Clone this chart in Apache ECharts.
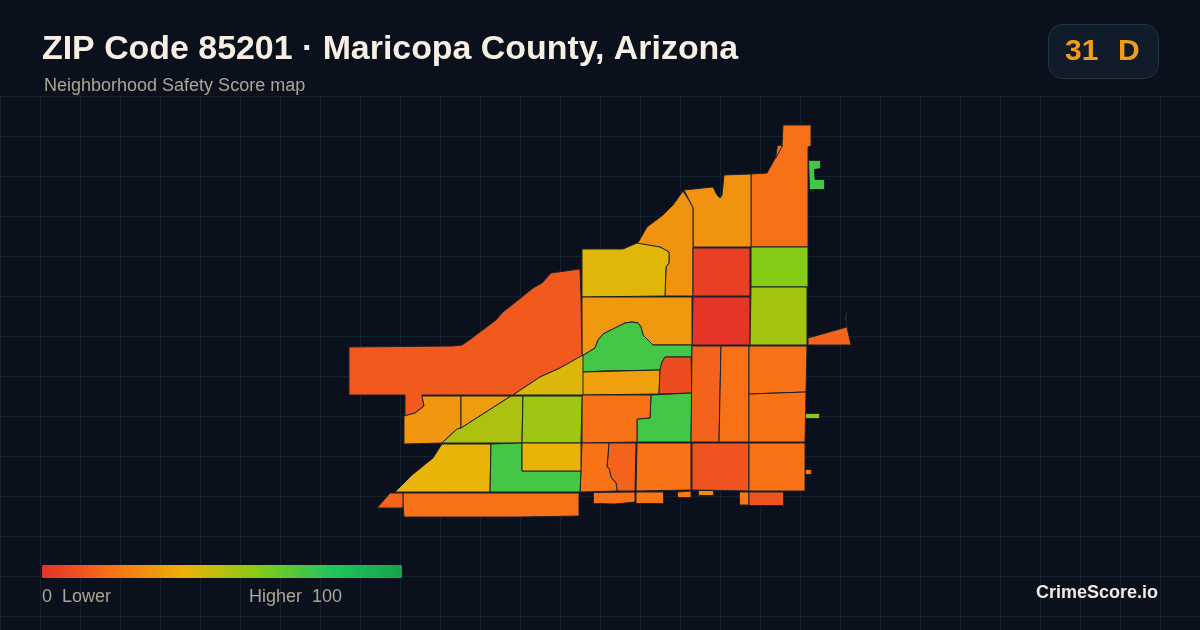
<!DOCTYPE html>
<html><head><meta charset="utf-8">
<style>html,body{margin:0;padding:0;background:#0a111c}#c{width:1200px;height:630px}</style>
<script src="https://cdn.jsdelivr.net/npm/echarts@6/dist/echarts.min.js"></script>
</head><body><div id="c"></div>
<script>
const titleText = 'ZIP Code 85201 · Maricopa County, Arizona';
const subtitleText = 'Neighborhood Safety Score map';
const badgeScore = '31';
const badgeGrade = 'D';
const brandText = 'CrimeScore.io';
const legendLow = '0  Lower';
const legendHigh = 'Higher  100';
const scaleColors = ['#e53228','#f97316','#eab308','#84cc16','#22c55e','#16a34a'];

const tractNames = ['ne','ne2','nw','nwy','r1','r2','g1','g2','mid','midg','k','l','m','n','o','p','q','r','s','t','u','v','w',
 'x','y','z1','z2','z3','z4','z5','z6','west','a','b','c','d','e','f','g','h','i','j','tri','e1','lime','sl'];
const tractScores = [19,30,30,42,4,1,60,54,32,73,34,8,73,20,15,19,20,20,10,20,20,15,20,
 20,21,22,27,22,10,21,22,12,31,33,52,55,43,40,73,40,19,15,15,73,60,12];
const tractOutlines = [
 [[783,125],[811,125],[811,146],[808,147],[808,247],[751,247],[751,174],[767,173],[782,146],[783,146]],
 [[684,190],[713,187],[717,195],[720,198],[722,195],[724,175],[751,174],[751,247],[693,247],[693,208],[690,202]],
 [[683,191],[690,202],[693,208],[693,296],[665,296],[666,267],[669,263],[669,252],[660,247],[637,244],[639,241],[647,227],[663,215],[673,205]],
 [[582,249],[623,249],[637,243],[637,244],[660,247],[669,252],[669,263],[666,267],[665,296],[582,297]],
 [[693,248],[750,248],[750,296],[693,296]],
 [[693,297],[750,297],[750,345],[692,345]],
 [[751,247],[808,247],[808,287],[751,287]],
 [[751,287],[807,287],[807,345],[750,345]],
 [[582,297],[692,297],[692,345],[653,345],[643,335],[641,327],[638,323],[632,322],[625,323],[613,329],[603,334],[598,340],[595,348],[582,356]],
 [[582,356],[595,348],[598,340],[603,334],[613,329],[625,323],[632,322],[638,323],[641,327],[643,335],[653,345],[692,345],[692,357],[665,357],[662,362],[660,370],[602,371],[582,372]],
 [[582,372],[660,370],[659,394],[582,395]],
 [[665,357],[691,357],[692,393],[659,394],[660,370],[662,362]],
 [[651,395],[692,393],[691,442],[637,442],[637,419],[650,418]],
 [[582,395],[651,395],[650,418],[637,419],[637,442],[582,443]],
 [[692,346],[721,346],[719,442],[691,442]],
 [[721,346],[749,346],[749,442],[719,442]],
 [[749,346],[807,346],[806,392],[749,394]],
 [[749,394],[806,392],[805,442],[749,442]],
 [[692,443],[749,443],[749,491],[692,490]],
 [[749,443],[805,443],[805,491],[749,491]],
 [[637,443],[691,443],[691,490],[636,491]],
 [[609,443],[636,443],[635,491],[617,491],[616,483],[611,477],[609,468],[607,467]],
 [[582,443],[609,443],[607,467],[609,468],[611,477],[616,483],[617,491],[580,492]],
 [[593.5,492.5],[635,492],[635,502],[615,504],[593.5,503.5]],
 [[636,492],[663.5,492],[663.5,503.5],[636,503.5]],
 [[677.5,492],[691,491],[691,497.5],[677.5,497.5]],
 [[698.5,490.5],[713.5,490.5],[713.5,495.5],[698.5,495.5]],
 [[739.5,492],[749,492],[749,505],[739.5,505]],
 [[749,492],[783.5,492],[783.5,505.5],[749,505.5]],
 [[805.5,469.5],[811.5,469.5],[811.5,474.5],[805.5,474.5]],
 [[777.5,145.5],[782.5,145.5],[775.5,158.5]],
 [[349,347],[453,346],[462,345],[468,341],[496,320],[503,312],[522,297],[533,288],[542,283],[551,273],[580,269],[581,297],[582,356],[560,368],[540,377],[513,395],[422,395],[424,406],[415,413],[405,416],[405,395],[349,395]],
 [[422,396],[461,396],[461,428],[457,429],[442,443],[404,444],[404,416],[415,413],[424,406]],
 [[461,396],[511,396],[461,428]],
 [[442,443],[457,429],[461,428],[511,396],[523,396],[522,443]],
 [[523,396],[582,396],[581,443],[522,443]],
 [[513,395],[540,377],[560,368],[583,355],[583,395]],
 [[442,444],[491,444],[490,492],[395,492],[412,475],[433,458],[440,447]],
 [[491,444],[522,443],[522,471],[581,471],[580,492],[490,492]],
 [[522,443],[581,443],[581,471],[522,471]],
 [[403,493],[579,493],[579,516],[520,517],[404,517],[403,503]],
 [[390,493],[403,493],[403,508],[377,508]],
 [[808,338],[847,327],[851,345],[808,345]],
 [[808.5,160.5],[820.5,160.5],[820.5,168.5],[814.5,169.5],[815,179.5],[824.5,179.5],[824.5,189.5],[809.5,189.5]],
 [[805.5,413.5],[819.5,413.5],[819.5,418.5],[805.5,418.5]],
 [[847,312],[845,318],[847,327],[846,318]]
];

const geojson = {type:'FeatureCollection',features:tractNames.map((n,i)=>({
  type:'Feature',properties:{name:n},
  geometry:{type:'Polygon',coordinates:[tractOutlines[i].concat([tractOutlines[i][0]])]}
}))};
echarts.registerMap('zip85201',geojson);

const chart = echarts.init(document.getElementById('c'),null,{renderer:'canvas'});
const sans = '"Liberation Sans", Arial, sans-serif';
chart.setOption({
  animation:false,
  backgroundColor:'#0a111c',
  title:[
    {text:titleText,left:42,top:33,padding:0,textStyle:{fontFamily:sans,fontSize:33.9,fontWeight:'bold',color:'#f7efe3'}},
    {text:subtitleText,left:44,top:77,padding:0,textStyle:{fontFamily:sans,fontSize:18,fontWeight:'normal',color:'#aca597'}}
  ],
  grid:{left:0,top:96,width:1200,height:534,show:false},
  xAxis:{type:'value',min:0,max:1200,interval:40,axisLine:{show:false},axisTick:{show:false},axisLabel:{show:false},
    splitLine:{show:true,lineStyle:{color:'#15212c',width:1}}},
  yAxis:{type:'value',inverse:true,min:0,max:534,interval:40,axisLine:{show:false},axisTick:{show:false},axisLabel:{show:false},
    splitLine:{show:true,lineStyle:{color:'#15212c',width:1}}},
  visualMap:{type:'continuous',min:0,max:100,seriesIndex:0,orient:'horizontal',left:42,top:565,itemWidth:13,itemHeight:360,
    padding:0,calculable:false,realtime:false,text:['',''],showLabel:false,hoverLink:false,textStyle:{fontSize:0,color:'transparent'},
    inRange:{color:scaleColors}},
  series:[{
    type:'map',map:'zip85201',
    projection:{project:p=>[p[0],p[1]],unproject:p=>[p[0],p[1]]},
    left:349,top:125,width:502,height:392,
    roam:false,silent:true,z:5,
    label:{show:false},emphasis:{disabled:true},select:{disabled:true},
    itemStyle:{borderColor:'#1d2229',borderWidth:1},
    data:tractNames.map((n,i)=>({name:n,value:tractScores[i]}))
  }],
  graphic:[
    {type:'rect',shape:{x:1048.5,y:24.5,width:110,height:54,r:14},style:{fill:'#111c2a',stroke:'#26323f',lineWidth:1},z:10},
    {type:'text',x:1065,y:52,z:11,style:{text:badgeScore,fontFamily:sans,fontSize:30,fontWeight:'bold',fill:'#f39c19',align:'left',verticalAlign:'middle'}},
    {type:'text',x:1118,y:52,z:11,style:{text:badgeGrade,fontFamily:sans,fontSize:30,fontWeight:'bold',fill:'#f39c19',align:'left',verticalAlign:'middle'}},
    {type:'text',x:42,y:597,z:11,style:{text:legendLow,fontFamily:sans,fontSize:18,fill:'#aca597',align:'left',verticalAlign:'middle'}},
    {type:'text',x:249,y:597,z:11,style:{text:legendHigh,fontFamily:sans,fontSize:18,fill:'#aca597',align:'left',verticalAlign:'middle'}},
    {type:'text',x:1158,y:593,z:11,style:{text:brandText,fontFamily:sans,fontSize:18,fontWeight:'bold',fill:'#f0ebe3',align:'right',verticalAlign:'middle'}}
  ]
});
</script></body></html>
